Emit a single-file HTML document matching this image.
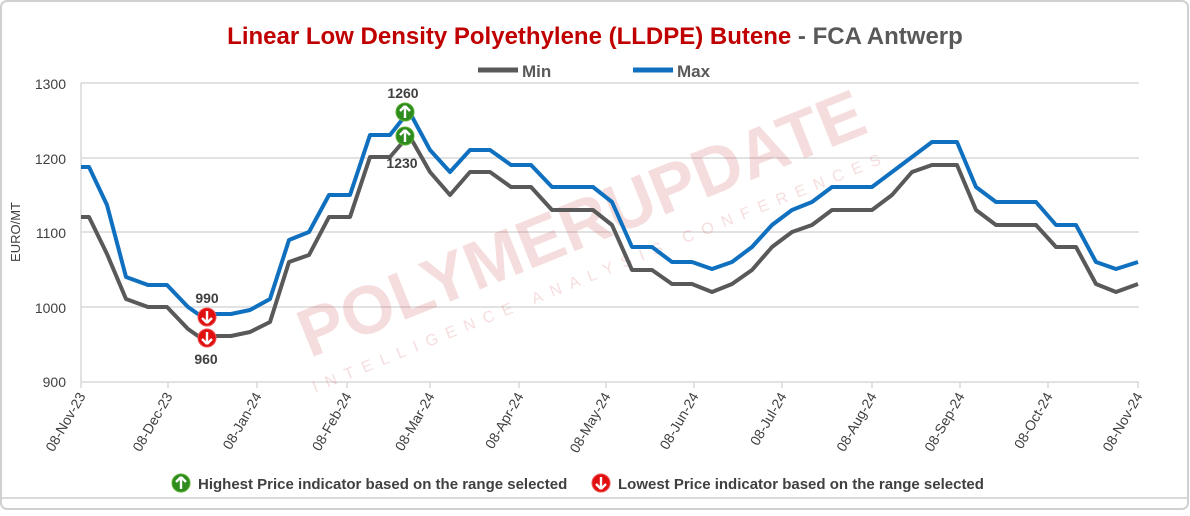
<!DOCTYPE html>
<html><head><meta charset="utf-8"><style>
body{margin:0;width:1190px;height:511px;background:#fff;overflow:hidden;font-family:"Liberation Sans",Arial,sans-serif}
</style></head><body>
<svg width="1190" height="511" xmlns="http://www.w3.org/2000/svg" font-family="Liberation Sans, Arial, sans-serif">
<rect x="1" y="1" width="1187" height="508" rx="6" fill="#fff" stroke="#d0d0d0" stroke-width="2"/>
<line x1="2" y1="498" x2="1187" y2="498" stroke="#d9d9d9" stroke-width="2"/>
<text x="595" y="44" text-anchor="middle" font-size="24" font-weight="bold"><tspan fill="#c00000">Linear Low Density Polyethylene (LLDPE) Butene</tspan><tspan fill="#595959"> - FCA Antwerp</tspan></text>
<line x1="478" y1="70" x2="518" y2="70" stroke="#595959" stroke-width="5"/>
<text x="522" y="77" font-size="17" font-weight="bold" fill="#595959">Min</text>
<line x1="633" y1="70" x2="673" y2="70" stroke="#1070c0" stroke-width="5"/>
<text x="677" y="77" font-size="17" font-weight="bold" fill="#595959">Max</text>
<g stroke="#d9d9d9" stroke-width="1.5">
<line x1="81" y1="83" x2="1139" y2="83"/><line x1="81" y1="158" x2="1139" y2="158"/><line x1="81" y1="232" x2="1139" y2="232"/><line x1="81" y1="307" x2="1139" y2="307"/>
<line x1="81" y1="83" x2="81" y2="382"/><line x1="81" y1="382" x2="1139" y2="382"/>
<line x1="81" y1="382" x2="81" y2="388"/><line x1="168" y1="382" x2="168" y2="388"/><line x1="257" y1="382" x2="257" y2="388"/><line x1="347" y1="382" x2="347" y2="388"/><line x1="430" y1="382" x2="430" y2="388"/><line x1="519" y1="382" x2="519" y2="388"/><line x1="606" y1="382" x2="606" y2="388"/><line x1="694" y1="382" x2="694" y2="388"/><line x1="782" y1="382" x2="782" y2="388"/><line x1="872" y1="382" x2="872" y2="388"/><line x1="960" y1="382" x2="960" y2="388"/><line x1="1048" y1="382" x2="1048" y2="388"/><line x1="1138" y1="382" x2="1138" y2="388"/>
</g>
<g font-size="14" fill="#404040" text-anchor="end">
<text x="66" y="89">1300</text><text x="66" y="164">1200</text><text x="66" y="238">1100</text><text x="66" y="313">1000</text><text x="66" y="387">900</text>
</g>
<text transform="translate(20,232) rotate(-90)" text-anchor="middle" font-size="13" fill="#404040">EURO/MT</text>
<g font-size="14" fill="#404040" text-anchor="end">
<text transform="translate(86,396) rotate(-60)">08-Nov-23</text>
<text transform="translate(173,396) rotate(-60)">08-Dec-23</text>
<text transform="translate(262,396) rotate(-60)">08-Jan-24</text>
<text transform="translate(352,396) rotate(-60)">08-Feb-24</text>
<text transform="translate(435,396) rotate(-60)">08-Mar-24</text>
<text transform="translate(524,396) rotate(-60)">08-Apr-24</text>
<text transform="translate(611,396) rotate(-60)">08-May-24</text>
<text transform="translate(699,396) rotate(-60)">08-Jun-24</text>
<text transform="translate(787,396) rotate(-60)">08-Jul-24</text>
<text transform="translate(877,396) rotate(-60)">08-Aug-24</text>
<text transform="translate(965,396) rotate(-60)">08-Sep-24</text>
<text transform="translate(1053,396) rotate(-60)">08-Oct-24</text>
<text transform="translate(1143,396) rotate(-60)">08-Nov-24</text>
</g>
<g opacity="0.13" transform="translate(590,245) rotate(-22)">
<text x="0" y="0" text-anchor="middle" font-size="68" font-weight="bold" fill="#c00000">POLYMERUPDATE</text>
<text x="0" y="34" text-anchor="middle" font-size="16" letter-spacing="9" fill="#c00000">INTELLIGENCE ANALYSIS CONFERENCES</text>
</g>
<polyline fill="none" stroke="#595959" stroke-width="4" stroke-linejoin="round" points="81,217 89,217 107,254 126,299 148,307 167,307 188,329 198,336 231,336 250,332 270,322 289,262 309,255 329,217 350,217 370,157 390,157 409,135 430,172 450,195 470,172 490,172 511,187 531,187 552,210 573,210 593,210 612,225 632,270 652,270 672,284 692,284 712,292 732,284 752,270 772,247 792,232 812,225 832,210 852,210 872,210 892,195 912,172 932,165 957,165 976,210 996,225 1016,225 1036,225 1056,247 1076,247 1096,284 1116,292 1138,284"/>
<polyline fill="none" stroke="#1070c0" stroke-width="4" stroke-linejoin="round" points="81,167 89,167 107,205 126,277 148,285 167,285 188,307 198,314 231,314 250,310 270,299 289,240 309,232 329,195 350,195 370,135 390,135 409,111 430,150 450,172 470,150 490,150 511,165 531,165 552,187 573,187 593,187 612,202 632,247 652,247 672,262 692,262 712,269 732,262 752,247 772,225 792,210 812,202 832,187 852,187 872,187 892,172 912,157 932,142 957,142 976,187 996,202 1016,202 1036,202 1056,225 1076,225 1096,262 1116,269 1138,262"/>
<defs>
<g id="up"><circle r="9" fill="#2e8b1e" stroke="#5ab030" stroke-width="1"/><path d="M0,-6 L5,-1 M0,-6 L-5,-1 M0,-6 L0,6" stroke="#fff" stroke-width="2.4" fill="none"/></g>
<g id="dn"><circle r="9" fill="#e01010" stroke="#f05050" stroke-width="1"/><path d="M0,6 L5,1 M0,6 L-5,1 M0,6 L0,-6" stroke="#fff" stroke-width="2.4" fill="none"/></g>
</defs>
<use href="#up" x="405" y="112"/><use href="#up" x="405" y="136"/>
<use href="#dn" x="207" y="317"/><use href="#dn" x="207" y="338"/>
<g font-size="14" font-weight="bold" fill="#404040" text-anchor="middle">
<text x="403" y="98">1260</text><text x="402" y="168">1230</text>
<text x="207" y="303">990</text><text x="206" y="364">960</text>
</g>
<use href="#up" x="181" y="483"/>
<text x="198" y="489" font-size="15" font-weight="bold" fill="#404040">Highest Price indicator based on the range selected</text>
<use href="#dn" x="601" y="483"/>
<text x="618" y="489" font-size="15" font-weight="bold" fill="#404040">Lowest Price indicator based on the range selected</text>
</svg>
</body></html>
